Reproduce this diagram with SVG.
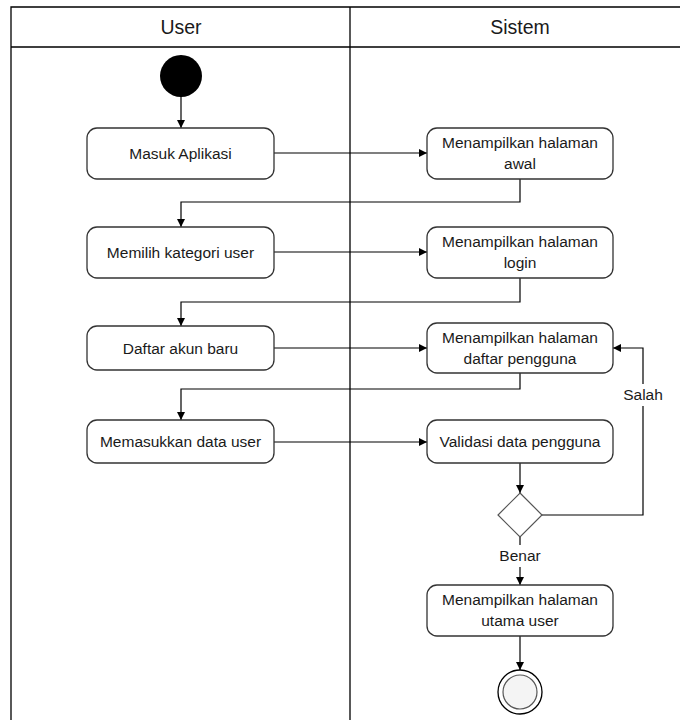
<svg xmlns="http://www.w3.org/2000/svg" width="680" height="720" viewBox="0 0 680 720">
<style>
.lane{fill:none;stroke:#000;stroke-width:1.3}
.box{fill:#fff;stroke:#333;stroke-width:1.3}
.t{font-family:"Liberation Sans",Arial,sans-serif;font-size:15.5px;fill:#1a1a1a;text-anchor:middle}
.h{font-family:"Liberation Sans",Arial,sans-serif;font-size:19.5px;fill:#1a1a1a;text-anchor:middle}
.c{fill:none;stroke:#000;stroke-width:1.2;marker-end:url(#ah)}
</style>
<defs>
<marker id="ah" viewBox="0 0 10 10" refX="10" refY="5" markerWidth="8" markerHeight="8" markerUnits="userSpaceOnUse" orient="auto">
<path d="M0,0 L10,5 L0,10 z" fill="#000"/>
</marker>
</defs>
<rect width="680" height="720" fill="#fff"/>
<g id="lanes">
<path class="lane" d="M11,720 V7 H680 M11,47 H680 M350,7 V720"/>
<text class="h" x="181" y="34">User</text>
<text class="h" x="520" y="34">Sistem</text>
</g>
<g id="connectors">
<path class="c" d="M181,97 V128"/>
<path class="c" d="M274,153 H427"/>
<path class="c" d="M520,179 V202 H181 V227"/>
<path class="c" d="M274,252 H427"/>
<path class="c" d="M520,278 V302 H181 V326"/>
<path class="c" d="M274,348 H427"/>
<path class="c" d="M520,373 V389 H181 V420"/>
<path class="c" d="M274,442 H427"/>
<path class="c" d="M520,463 V493"/>
<path class="c" d="M542,515 H643 V348 H613"/>
<path class="c" d="M520,537 V585"/>
<path class="c" d="M520,636 V670"/>
<rect x="620" y="384" width="46" height="22" fill="#fff"/>
<text class="t" x="643" y="400">Salah</text>
<rect x="494" y="545" width="52" height="22" fill="#fff"/>
<text class="t" x="520" y="561">Benar</text>
</g>
<g id="start"><circle cx="181" cy="76" r="21" fill="#000"/></g>
<g id="masuk"><rect class="box" x="87" y="128" width="187" height="51" rx="10"/><text class="t" x="180.5" y="159">Masuk Aplikasi</text></g>
<g id="awal"><rect class="box" x="427" y="128" width="186" height="51" rx="10"/><text class="t" x="520" y="148">Menampilkan halaman</text><text class="t" x="520" y="169">awal</text></g>
<g id="memilih"><rect class="box" x="87" y="227" width="187" height="51" rx="10"/><text class="t" x="180.5" y="258">Memilih kategori user</text></g>
<g id="login"><rect class="box" x="427" y="227" width="186" height="51" rx="10"/><text class="t" x="520" y="247">Menampilkan halaman</text><text class="t" x="520" y="268">login</text></g>
<g id="daftar"><rect class="box" x="87" y="326" width="187" height="44" rx="10"/><text class="t" x="180.5" y="354">Daftar akun baru</text></g>
<g id="daftarpengguna"><rect class="box" x="427" y="323" width="186" height="50" rx="10"/><text class="t" x="520" y="343">Menampilkan halaman</text><text class="t" x="520" y="364">daftar pengguna</text></g>
<g id="memasukkan"><rect class="box" x="87" y="420" width="187" height="43" rx="10"/><text class="t" x="180.5" y="447">Memasukkan data user</text></g>
<g id="validasi"><rect class="box" x="427" y="420" width="186" height="43" rx="10"/><text class="t" x="520" y="447">Validasi data pengguna</text></g>
<g id="decision"><path d="M520,493 L542,515 L520,537 L498,515 Z" fill="#fff" stroke="#555" stroke-width="1.2"/></g>
<g id="utama"><rect class="box" x="427" y="585" width="186" height="51" rx="10"/><text class="t" x="520" y="605">Menampilkan halaman</text><text class="t" x="520" y="626">utama user</text></g>
<g id="end"><circle cx="520" cy="692" r="22" fill="#fff" stroke="#000" stroke-width="1.3"/><circle cx="520" cy="692" r="17" fill="#f4f4f4" stroke="#555" stroke-width="1.2"/></g>
</svg>
